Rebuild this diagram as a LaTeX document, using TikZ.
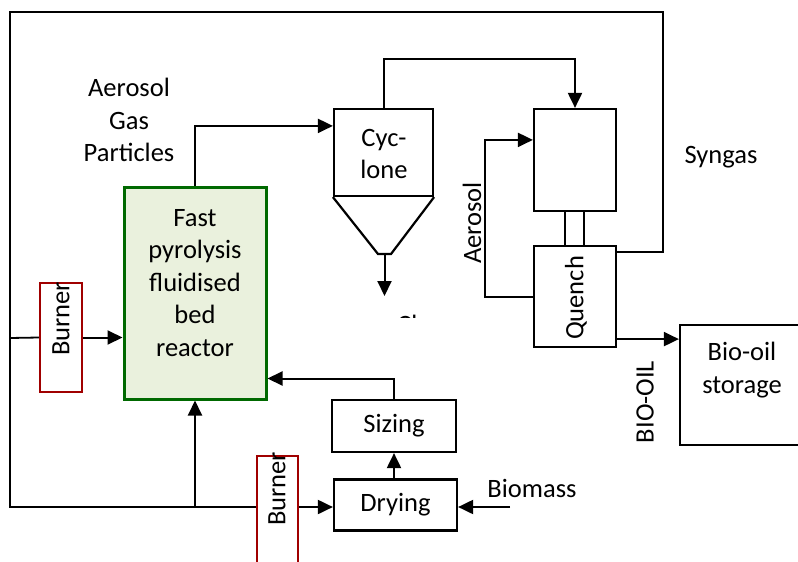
\documentclass[tikz,border=0pt]{standalone}
\usepackage{fontspec}
\setmainfont{Carlito}
\usetikzlibrary{arrows.meta,backgrounds,calc}
\definecolor{burnred}{RGB}{160,0,0}
\definecolor{reacgreen}{RGB}{0,105,0}
\definecolor{reacfill}{RGB}{234,241,221}
\tikzset{
  box/.style={draw=black,line width=2.2pt,fill=white,inner sep=0pt,align=center},
  burnerbox/.style={draw=burnred,line width=2pt,fill=white,inner sep=0pt},
  conn/.style={line width=2pt},
  arr/.style={line width=2pt,-{Triangle[length=15pt,width=14pt]}},
  lbl/.style={align=center,inner sep=0pt}
}
\begin{document}
\begin{tikzpicture}[x=1pt,y=-1pt,font=\fontsize{26.5}{32.5}\selectfont]
\useasboundingbox (0,0) rectangle (798,562);
% nodes
\node[box,draw=reacgreen,fill=reacfill,line width=3pt,minimum width=142pt,minimum height=212pt] (reactor) at (195,293) {};
\node[lbl] (reactxt) at (195,283) {Fast\\pyrolysis\\fluidised\\bed\\reactor};
\node[box,minimum width=99pt,minimum height=87pt] (cyc) at (383.5,152.5) {};
\node[lbl] (cyctxt) at (384,154) {Cyc-\\lone};
\node[box,minimum width=82pt,minimum height=102pt] (cond) at (575,160) {};
\node[box,minimum width=82pt,minimum height=101pt] (quench) at (575,296.5) {};
\node[lbl,rotate=90] (quenchtxt) at (576,298) {Quench};
\node[box,minimum width=150pt,minimum height=120pt] (store) at (755,385) {};
\node[lbl] (storetxt) at (742,370) {Bio-oil\\storage};
\node[burnerbox,minimum width=42pt,minimum height=109pt] (burn1) at (61,337.5) {};
\node[lbl,rotate=90] (burn1txt) at (61,319) {Burner};
\node[burnerbox,minimum width=41pt,minimum height=144pt] (burn2) at (277.5,528) {};
\node[lbl,rotate=90] (burn2txt) at (277,489) {Burner};
\node[box,minimum width=124pt,minimum height=52pt] (sizing) at (394,426) {Sizing};
\node[box,minimum width=123pt,minimum height=51pt] (drying) at (395.5,505) {Drying};
\node[lbl] (aerolbl) at (129,120) {Aerosol\\Gas\\Particles};
\node[lbl] (syngas) at (721,157) {Syngas};
\node[lbl] (biomass) at (532,488) {Biomass};
\node[lbl,rotate=90] (aerosol) at (472,223) {Aerosol};
\node[lbl,rotate=90] (biooil) at (645,402) {BIO-OIL};
\begin{scope}
\clip (360,290) rectangle (450,317);
\node[anchor=base west,inner sep=0pt] (char) at (397,333) {Char};
\end{scope}
% coordinates
\coordinate (conel) at (378,254);
\coordinate (coner) at (391,254);
\coordinate (conebot) at (384.5,254);
\coordinate (chartop) at (384.5,296);
\coordinate (bio) at (510,507);
\coordinate (pipeA) at (565,211);
\coordinate (pipeB) at (584,211);
% cone
\draw[line width=2.2pt,line join=miter] (cyc.south west) -- (conel) -- (coner) -- (cyc.south east);
\begin{scope}[on background layer]
% reactor to cyclone
\draw[arr] (reactor.north) |- ($(cyc.north west)+(0,18)$);
% cyclone to condenser
\draw[arr] (cyc.north) |- ($(cond.north)+(0,-49)$) -- (cond.north);
% char out
\draw[arr] (conebot) -- (chartop);
% pipes between condenser and quench
\draw[conn] (pipeA) -- (pipeA |- quench.north);
\draw[conn] (pipeB) -- (pipeB |- quench.north);
% aerosol recycle
\draw[arr] ($(quench.west)+(0,0.5)$) -- ++(-48,0) |- ($(cond.north west)+(0,32)$);
% bio-oil
\draw[arr] ($(quench.south east)+(0,-9)$) -- ($(quench.south east -| store.west)+(0,-9)$);
% syngas loop
\draw[line width=1.8pt] ($(quench.north east)+(0,7)$) -| (663,12) -| (10,338) -- (burn1.west);
\draw[line width=1.8pt] (10,338) |- (burn2.west |- bio);
\draw[arr] (burn2.east |- bio) -- (drying.west |- bio);
\draw[arr] (burn1.east) -- (burn1.east -| reactor.west);
\draw[arr] (reactor.south |- bio) -- (reactor.south);
% sizing to reactor
\draw[arr] (sizing.north) |- ($(reactor.south east)+(0,-22)$);
% drying to sizing
\draw[arr] (drying.north -| sizing.south) -- (sizing.south);
% biomass
\draw[arr] (bio) -- (drying.east |- bio);
\end{scope}
\end{tikzpicture}
\end{document}
